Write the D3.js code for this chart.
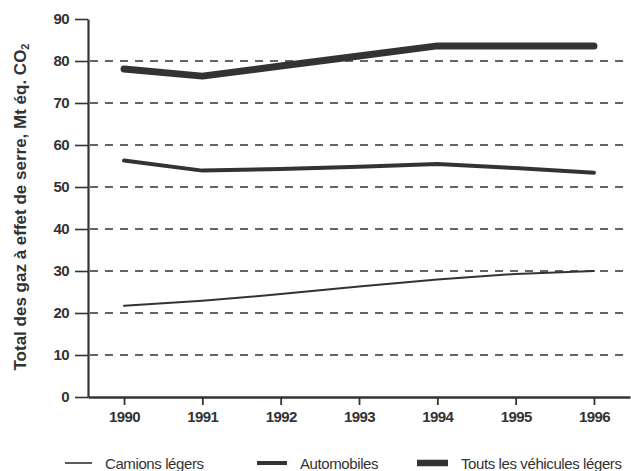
<!DOCTYPE html>
<html><head><meta charset="utf-8">
<script src="https://cdn.jsdelivr.net/npm/d3@7"></script>
<style>body{margin:0;background:#fff}svg{display:block}</style>
</head><body>
<svg id="c" width="631" height="471"></svg>
<script>
const years = [1990, 1991, 1992, 1993, 1994, 1995, 1996];
const camions = [21.7, 22.9, 24.5, 26.3, 28.0, 29.3, 30.0];
const automobiles = [56.3, 53.9, 54.3, 54.8, 55.5, 54.5, 53.4];
const total = [78.1, 76.4, 78.8, 81.2, 83.6, 83.6, 83.6];
const yTicks = [0, 10, 20, 30, 40, 50, 60, 70, 80, 90];
const seriesNames = ["Camions légers", "Automobiles", "Touts les véhicules légers"];
const yTitle = "Total des gaz à effet de serre, Mt éq. CO";

const svg = d3.select("#c");
const ink = "#333";
const x = d3.scaleLinear().domain([1989.54, 1996.46]).range([88, 630]);
const y = d3.scaleLinear().domain([0, 90]).range([397, 19]);

// gridlines
svg.append("g").selectAll("line").data(yTicks.filter(v => v > 0 && v < 90)).join("line")
  .attr("x1", 90).attr("x2", 630)
  .attr("y1", d => y(d)).attr("y2", d => y(d))
  .attr("stroke", ink).attr("stroke-width", 1.6).attr("stroke-dasharray", "8,7");

// y axis
const ya = svg.append("g").attr("transform", "translate(88,0)")
  .call(d3.axisLeft(y).tickValues(yTicks).tickSize(13).tickPadding(6).tickSizeOuter(0));
ya.select(".domain").attr("stroke", ink).attr("stroke-width", 2.2);
ya.selectAll(".tick line").attr("stroke", ink).attr("stroke-width", 1.6);
ya.selectAll("text").attr("font-family", "Liberation Sans, Arial, sans-serif")
  .attr("font-weight", "bold").attr("font-size", 15).attr("fill", ink).attr("letter-spacing", -0.6);

// x axis
const xa = svg.append("g").attr("transform", "translate(0,397)")
  .call(d3.axisBottom(x).tickValues(years).tickFormat(d3.format("d")).tickSize(8).tickPadding(6).tickSizeOuter(0));
xa.select(".domain").attr("stroke", ink).attr("stroke-width", 2.6);
xa.selectAll(".tick line").attr("stroke", ink).attr("stroke-width", 1.8);
xa.selectAll("text").attr("font-family", "Liberation Sans, Arial, sans-serif")
  .attr("font-weight", "bold").attr("font-size", 15).attr("fill", ink).attr("letter-spacing", -0.6);

// lines
const line = d3.line().x((d, i) => x(years[i])).y(d => y(d));
const widths = [2, 4, 7];
[camions, automobiles, total].forEach((s, k) => {
  svg.append("path").datum(s).attr("d", line).attr("fill", "none")
    .attr("stroke", ink).attr("stroke-width", widths[k])
    .attr("stroke-linejoin", "round").attr("stroke-linecap", "round");
});

// y title
const t = svg.append("text").attr("transform", "translate(26,207) rotate(-90)")
  .attr("text-anchor", "middle").attr("font-family", "Liberation Sans, Arial, sans-serif")
  .attr("font-weight", "bold").attr("font-size", 17).attr("fill", ink);
t.append("tspan").text(yTitle);
t.append("tspan").attr("font-size", 11).attr("dy", 3).text("2");

// legend
const legX = [65, 257, 417];
const legW = [27, 30, 31];
const legLW = [1.6, 4, 6.5];
seriesNames.forEach((n, i) => {
  svg.append("line").attr("x1", legX[i]).attr("x2", legX[i] + legW[i])
    .attr("y1", 463).attr("y2", 463).attr("stroke", ink).attr("stroke-width", legLW[i]);
  svg.append("text").attr("x", legX[i] + legW[i] + 13).attr("y", 468.5)
    .attr("font-family", "Liberation Sans, Arial, sans-serif").attr("font-size", 15)
    .attr("fill", ink).attr("letter-spacing", -0.4).text(n);
});
</script>
</body></html>
